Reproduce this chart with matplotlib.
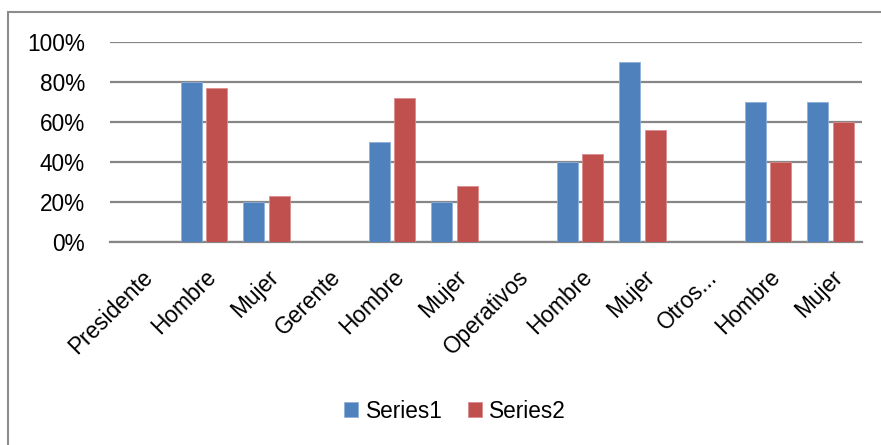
import matplotlib
matplotlib.use("Agg")
import matplotlib.pyplot as plt
from matplotlib.patches import Rectangle
from matplotlib.ticker import FuncFormatter
import numpy as np

categories = ["Presidente", "Hombre", "Mujer", "Gerente", "Hombre", "Mujer",
              "Operativos", "Hombre", "Mujer", "Otros...", "Hombre", "Mujer"]
series1 = [0, 80, 20, 0, 50, 20, 0, 40, 90, 0, 70, 70]
series2 = [0, 77, 23, 0, 72, 28, 0, 44, 56, 0, 40, 60]

plt.rcParams['font.family'] = ['Liberation Sans', 'DejaVu Sans']

fig = plt.figure(figsize=(8.81, 4.45), dpi=100)
W, H = 881, 445
ax = fig.add_axes([110 / W, 1 - 242 / H, 752 / W, 200 / H])

x = np.arange(len(categories))
bw = 0.335
off = 0.207
ax.bar(x - off, series1, bw, color="#4F81BD", edgecolor="#8EB0DA", linewidth=0.6,
       label="Series1", zorder=3)
ax.bar(x + off, series2, bw, color="#C0504D", edgecolor="#DA8C8A", linewidth=0.6,
       label="Series2", zorder=3)

ax.set_xlim(-0.5, len(categories) - 0.5)
ax.set_ylim(0, 100)
ax.set_yticks(range(0, 101, 20))
ax.yaxis.set_major_formatter(FuncFormatter(lambda v, p: f"{int(v)}%"))
ax.grid(axis="y", color="#868686", linewidth=1.6, zorder=0)
for s in ["top", "right", "left"]:
    ax.spines[s].set_visible(False)
ax.spines["bottom"].set_color("#868686")
ax.spines["bottom"].set_linewidth(1.6)
ax.tick_params(axis="both", length=0, labelsize=16.3, colors="black")
ax.tick_params(axis="y", pad=18)

ax.set_xticks(x)
ax.set_xticklabels(categories, rotation=45, ha="right", rotation_mode="anchor")
ax.tick_params(axis="x", pad=17)

fig.legend(loc="center", bbox_to_anchor=(455 / W, 1 - 411 / H), ncol=2,
           frameon=False, fontsize=16.3, handlelength=0.62, handleheight=0.62,
           handletextpad=0.35, columnspacing=1.1)

# outer chart frame, running off the right and bottom edges
fig.patches.append(Rectangle((8 / W, -0.1), 1.2, 1.1 - 12 / H,
                             transform=fig.transFigure, fill=False,
                             edgecolor="#8C8C8C", linewidth=1.5))

fig.savefig("out.png", dpi=100, facecolor="white")
